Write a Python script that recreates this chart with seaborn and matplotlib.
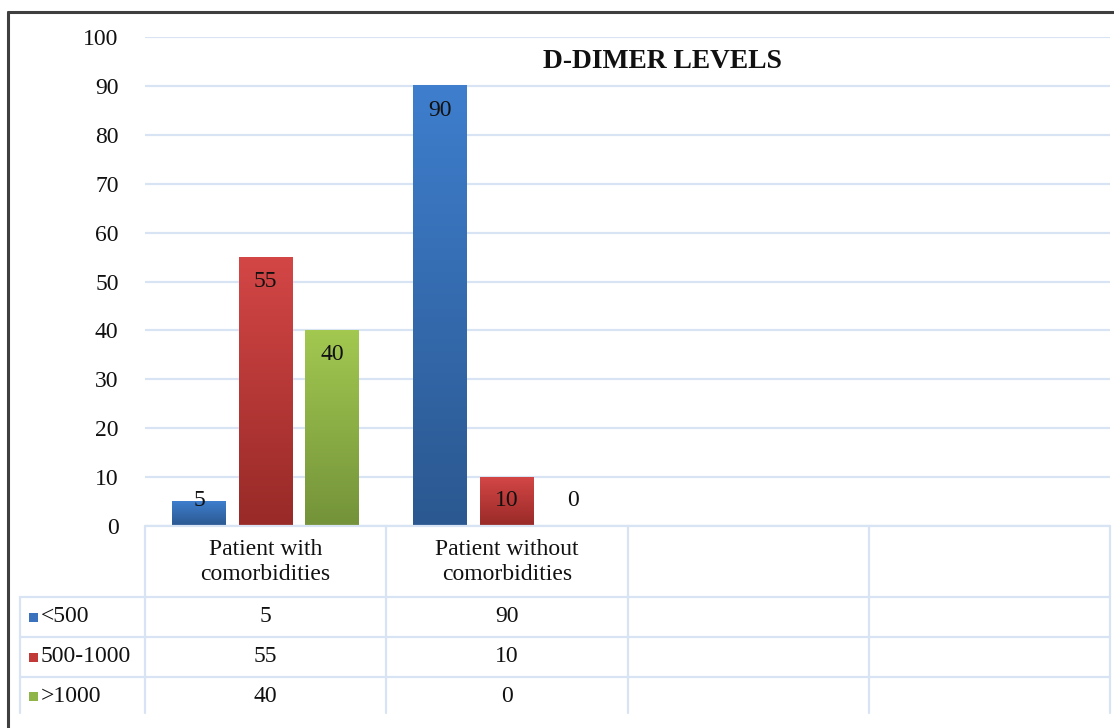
import numpy as np
import pandas as pd
import matplotlib
matplotlib.use("Agg")
import matplotlib.pyplot as plt
import seaborn as sns
from matplotlib.lines import Line2D
from matplotlib.patches import Rectangle
from matplotlib.colors import LinearSegmentedColormap

# ---- data -------------------------------------------------------------
groups = ["Patient with\ncomorbidities", "Patient without\ncomorbidities"]
levels = ["<500", "500-1000", ">1000"]
with_comorbidities = [5, 55, 40]
without_comorbidities = [90, 10, 0]
y_ticks = [0, 10, 20, 30, 40, 50, 60, 70, 80, 90, 100]
title = "D-DIMER LEVELS"

# ---- styling ----------------------------------------------------------
top_colors = ["#3e7ecd", "#d34646", "#a2c850"]
bottom_colors = ["#2b5890", "#982a27", "#74933a"]
key_colors = ["#3a72bd", "#c23a38", "#8fb548"]
grid_color = "#d8e4f4"
text_size = 17

sns.set_theme(style="white")
plt.rcParams["font.family"] = ["Liberation Serif", "DejaVu Serif"]

W, H = 1114, 728
fig = plt.figure(figsize=(W / 100, H / 100), dpi=100)
fig.patch.set_facecolor("white")

# plot area in pixel terms: x 145..1110, y 37..526 (from top)
ax = fig.add_axes([145 / W, 1 - 526 / H, (1110 - 145) / W, (526 - 37) / H])

df = pd.DataFrame({
    "group": np.repeat(groups, len(levels)),
    "level": levels * len(groups),
    "value": with_comorbidities + without_comorbidities,
})

sns.barplot(data=df, x="group", y="value", hue="level",
            order=groups, hue_order=levels, palette=top_colors,
            width=0.828, gap=0.19, saturation=1, errorbar=None,
            legend=False, ax=ax)

ax.set_xlim(-0.5, 3.5)
ax.set_ylim(0, 100)
ax.set_yticks(y_ticks)
ax.set_xticks([])
ax.set_xlabel("")
ax.set_ylabel("")
for s in ax.spines.values():
    s.set_visible(False)
ax.yaxis.grid(True, color=grid_color, lw=1.6)
ax.set_axisbelow(True)
ax.tick_params(axis="y", length=0, pad=19, labelsize=text_size, labelcolor="#111111")

# gradient fill for every bar plus inside-end value labels
for i, cont in enumerate(ax.containers):
    cmap = LinearSegmentedColormap.from_list(f"g{i}", [bottom_colors[i], top_colors[i]])
    for j, bar in enumerate(cont):
        x0, w, h = bar.get_x(), bar.get_width(), bar.get_height()
        bar.set_visible(False)
        if h > 0:
            grad = np.linspace(0, 1, 64).reshape(-1, 1)
            ax.imshow(grad, extent=[x0, x0 + w, 0, h], origin="lower",
                      cmap=cmap, aspect="auto", interpolation="bilinear",
                      zorder=2)
        value = df[(df["level"] == levels[i]) & (df["group"] == groups[j])]["value"].iloc[0]
        ax.text(x0 + w / 2, max(value - 5.0, 5.3), f"{value:g}",
                ha="center", va="center", fontsize=text_size, color="#111111", zorder=3)

ax.set_xlim(-0.5, 3.5)
ax.set_ylim(0, 100)

# ---- data table below the plot ---------------------------------------
def fx_data(x):
    """data x of the bar axes -> figure fraction"""
    px = ax.transData.transform((x, 0))[0]
    return fig.transFigure.inverted().transform((px, 0))[0]

def fy(py):
    return 1 - py / H

line_kw = dict(color=grid_color, lw=1.6, transform=fig.transFigure)
bounds = [-0.5, 0.5, 1.5, 2.5, 3.5]
left_px = 20 / W
x_right = fx_data(3.5)

fig.add_artist(Line2D([fx_data(-0.5), x_right], [fy(526), fy(526)], **line_kw))
for row_y in (597, 637, 677):
    fig.add_artist(Line2D([left_px, x_right], [fy(row_y), fy(row_y)], **line_kw))
for b in bounds:
    fig.add_artist(Line2D([fx_data(b), fx_data(b)], [fy(526), fy(713)], **line_kw))
fig.add_artist(Line2D([left_px, left_px], [fy(597), fy(713)], **line_kw))

for j, g in enumerate(groups):
    fig.text(fx_data(j), fy(562), g, ha="center", va="center",
             fontsize=text_size, linespacing=1.22, color="#111111")

row_centers = [617, 657, 696]
series_by_group = [with_comorbidities, without_comorbidities]
for i, lvl in enumerate(levels):
    yc = fy(row_centers[i])
    fig.add_artist(Rectangle((29 / W, yc - 4.5 / H), 9 / W, 9 / H,
                             transform=fig.transFigure, color=key_colors[i], lw=0))
    fig.text(41 / W, yc, lvl, ha="left", va="center",
             fontsize=text_size, color="#111111")
    for j in range(len(groups)):
        fig.text(fx_data(j), yc, f"{series_by_group[j][i]:g}", ha="center",
                 va="center", fontsize=text_size, color="#111111")

# ---- title and outer frame -------------------------------------------
fig.text(662 / W, fy(61), title, ha="center", va="center",
         fontsize=19.8, fontweight="bold", color="#111111")

frame_kw = dict(color="#3f3f3f", lw=2.2, transform=fig.transFigure)
fig.add_artist(Line2D([8 / W, 8 / W], [0, fy(12)], **frame_kw))
fig.add_artist(Line2D([8 / W, 1], [fy(12), fy(12)], **frame_kw))

fig.savefig("out.png", dpi=100)
